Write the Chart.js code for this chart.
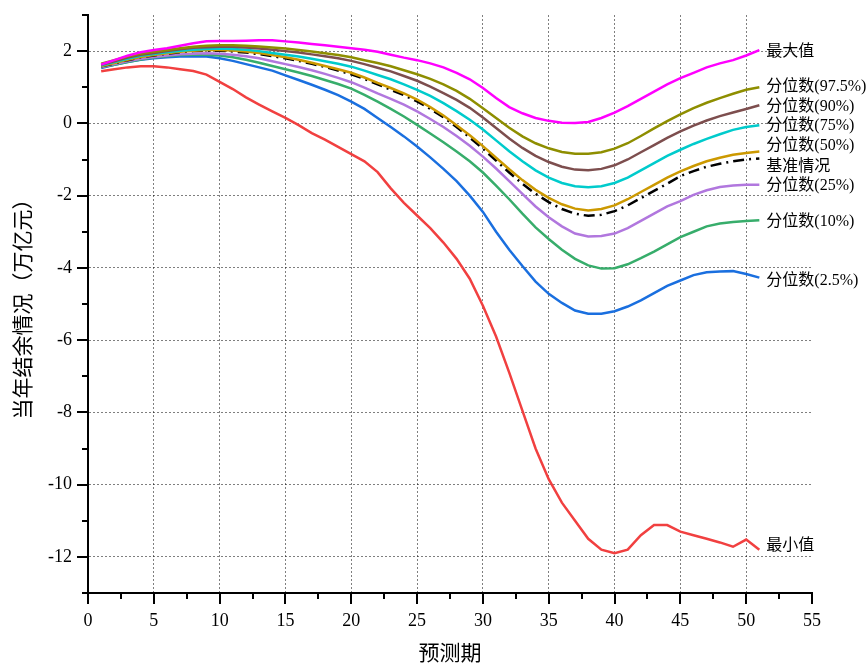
<!DOCTYPE html>
<html>
<head>
<meta charset="utf-8">
<script src="https://cdn.jsdelivr.net/npm/chart.js@4.4.1/dist/chart.umd.min.js"></script>
<style>
  html, body { margin: 0; padding: 0; background: #fff; }
  canvas { display: block; }
</style>
</head>
<body>
<canvas id="c" width="867" height="665"></canvas>
<script>
// ---- data ----
const periods = [1,2,3,4,5,6,7,8,9,10,11,12,13,14,15,16,17,18,19,20,21,22,23,24,25,26,27,28,29,30,31,32,33,34,35,36,37,38,39,40,41,42,43,44,45,46,47,48,49,50,51];

const maxValue = [1.63,1.75,1.87,1.97,2.03,2.08,2.15,2.22,2.27,2.28,2.28,2.29,2.30,2.30,2.27,2.24,2.20,2.16,2.12,2.08,2.04,1.98,1.90,1.82,1.75,1.66,1.55,1.40,1.22,0.98,0.70,0.45,0.28,0.15,0.07,0.02,0.01,0.04,0.15,0.30,0.48,0.68,0.88,1.08,1.25,1.40,1.55,1.66,1.75,1.88,2.03];
const q975 = [1.65,1.75,1.85,1.93,1.98,2.03,2.08,2.12,2.15,2.16,2.16,2.15,2.13,2.10,2.07,2.03,1.99,1.94,1.89,1.83,1.75,1.67,1.58,1.47,1.36,1.23,1.08,0.90,0.68,0.42,0.15,-0.12,-0.36,-0.55,-0.69,-0.79,-0.84,-0.84,-0.80,-0.70,-0.55,-0.35,-0.14,0.06,0.25,0.42,0.57,0.70,0.82,0.93,1.00];
const q90 = [1.62,1.72,1.82,1.90,1.95,2.00,2.05,2.09,2.11,2.12,2.12,2.10,2.07,2.04,2.00,1.96,1.91,1.86,1.80,1.73,1.64,1.54,1.44,1.31,1.18,1.02,0.84,0.65,0.43,0.16,-0.13,-0.42,-0.68,-0.90,-1.07,-1.20,-1.28,-1.30,-1.26,-1.16,-1.00,-0.80,-0.60,-0.40,-0.22,-0.06,0.08,0.20,0.30,0.40,0.50];
const q75 = [1.60,1.70,1.79,1.87,1.92,1.97,2.01,2.04,2.06,2.07,2.06,2.04,2.00,1.95,1.90,1.85,1.79,1.72,1.65,1.57,1.46,1.34,1.22,1.08,0.93,0.76,0.56,0.34,0.10,-0.17,-0.47,-0.77,-1.05,-1.30,-1.50,-1.65,-1.74,-1.77,-1.74,-1.65,-1.50,-1.30,-1.10,-0.90,-0.73,-0.57,-0.43,-0.30,-0.18,-0.10,-0.05];
const q50 = [1.58,1.67,1.76,1.84,1.89,1.94,1.98,2.01,2.03,2.03,2.02,1.99,1.95,1.89,1.83,1.76,1.68,1.59,1.50,1.40,1.27,1.12,0.98,0.83,0.66,0.45,0.22,-0.05,-0.33,-0.63,-0.95,-1.27,-1.57,-1.84,-2.06,-2.24,-2.36,-2.41,-2.37,-2.27,-2.10,-1.90,-1.70,-1.50,-1.33,-1.18,-1.05,-0.95,-0.87,-0.82,-0.78];
const baseline = [1.58,1.66,1.75,1.83,1.88,1.93,1.97,2.00,2.01,2.01,1.99,1.96,1.92,1.86,1.80,1.73,1.65,1.56,1.46,1.36,1.23,1.08,0.93,0.78,0.61,0.40,0.17,-0.10,-0.39,-0.70,-1.03,-1.36,-1.67,-1.95,-2.18,-2.37,-2.50,-2.56,-2.53,-2.43,-2.27,-2.07,-1.87,-1.67,-1.46,-1.32,-1.20,-1.12,-1.05,-1.00,-0.97];
const q25 = [1.56,1.64,1.72,1.79,1.84,1.88,1.91,1.93,1.94,1.93,1.90,1.86,1.80,1.72,1.64,1.56,1.47,1.37,1.26,1.14,0.99,0.83,0.68,0.52,0.33,0.12,-0.10,-0.35,-0.62,-0.92,-1.25,-1.60,-1.95,-2.30,-2.60,-2.85,-3.05,-3.13,-3.12,-3.05,-2.90,-2.70,-2.50,-2.30,-2.15,-1.98,-1.85,-1.76,-1.72,-1.70,-1.70];
const q10 = [1.55,1.62,1.70,1.77,1.82,1.86,1.89,1.90,1.90,1.88,1.83,1.76,1.68,1.59,1.50,1.41,1.31,1.20,1.09,0.96,0.79,0.60,0.40,0.19,-0.04,-0.28,-0.52,-0.78,-1.05,-1.36,-1.72,-2.10,-2.50,-2.88,-3.20,-3.50,-3.75,-3.93,-4.02,-4.01,-3.90,-3.73,-3.55,-3.35,-3.15,-3.00,-2.85,-2.77,-2.73,-2.70,-2.68];
const q025 = [1.53,1.62,1.70,1.76,1.80,1.83,1.85,1.86,1.85,1.80,1.73,1.64,1.55,1.46,1.33,1.20,1.07,0.93,0.78,0.60,0.40,0.15,-0.10,-0.36,-0.64,-0.94,-1.26,-1.60,-2.00,-2.45,-3.00,-3.50,-3.95,-4.38,-4.72,-4.97,-5.18,-5.27,-5.27,-5.20,-5.07,-4.90,-4.70,-4.50,-4.35,-4.20,-4.12,-4.10,-4.09,-4.17,-4.27];
const minValue = [1.44,1.50,1.55,1.58,1.58,1.55,1.50,1.45,1.35,1.15,0.95,0.72,0.52,0.33,0.15,-0.05,-0.27,-0.45,-0.65,-0.85,-1.05,-1.35,-1.80,-2.20,-2.55,-2.90,-3.30,-3.75,-4.30,-5.05,-5.90,-6.90,-7.95,-9.00,-9.85,-10.50,-11.00,-11.50,-11.80,-11.90,-11.80,-11.40,-11.12,-11.12,-11.30,-11.40,-11.50,-11.60,-11.72,-11.52,-11.80];

const seriesNames = ['最大值','分位数(97.5%)','分位数(90%)','分位数(75%)','分位数(50%)','基准情况','分位数(25%)','分位数(10%)','分位数(2.5%)','最小值'];
const seriesValues = [maxValue, q975, q90, q75, q50, baseline, q25, q10, q025, minValue];
// vertical position (in data units) of each end label
const labelLevels = [1.98, 1.0, 0.45, -0.08, -0.63, -1.19, -1.73, -2.72, -4.36, -11.68];

const xTicks = [0,5,10,15,20,25,30,35,40,45,50,55];
const yTicks = [-12,-10,-8,-6,-4,-2,0,2];
const xRange = [0, 55];
const yRange = [-13, 3];
const xMinorStep = 2.5;
const yMinorStep = 1;

// ---- styles ----
const colors = ['#FF00FF','#8E8E00','#7D4E4E','#00CBCC','#CC9900','#000000','#B177DE','#37AD6B','#1A6FDF','#F14040'];
const serif = '"Liberation Serif", "Times New Roman", "Noto Sans CJK SC", serif';

const datasets = seriesValues.map((vals, i) => ({
  label: seriesNames[i],
  data: periods.map((p, k) => ({x: p, y: vals[k]})),
  borderColor: colors[i],
  borderWidth: 2.5,
  borderDash: i === 5 ? [11, 5, 2, 5] : [],
  pointRadius: 0,
  tension: 0,
  fill: false
}));

const tickMarks = {
  id: 'tickMarks',
  afterDraw(chart) {
    const {ctx, scales: {x, y}} = chart;
    ctx.save();
    ctx.strokeStyle = '#000';
    ctx.lineWidth = 2;
    const n = Math.round((xRange[1] - xRange[0]) / xMinorStep);
    for (let k = 0; k <= n; k++) {
      const v = xRange[0] + k * xMinorStep;
      const major = xTicks.includes(v);
      const px = Math.round(x.getPixelForValue(v));
      ctx.beginPath();
      ctx.moveTo(px, y.bottom);
      ctx.lineTo(px, y.bottom + (major ? 11 : 6));
      ctx.stroke();
    }
    const m = Math.round((yRange[1] - yRange[0]) / yMinorStep);
    for (let k = 0; k <= m; k++) {
      const v = yRange[0] + k * yMinorStep;
      const major = yTicks.includes(v);
      const py = Math.round(y.getPixelForValue(v));
      ctx.beginPath();
      ctx.moveTo(x.left, py);
      ctx.lineTo(x.left - (major ? 11 : 6), py);
      ctx.stroke();
    }
    ctx.restore();
  }
};

const endLabels = {
  id: 'endLabels',
  afterDatasetsDraw(chart) {
    const {ctx, scales: {x, y}} = chart;
    ctx.save();
    ctx.font = '16px ' + serif;
    ctx.fillStyle = '#000';
    ctx.textBaseline = 'middle';
    ctx.textAlign = 'left';
    const lastX = periods[periods.length - 1];
    seriesNames.forEach((name, i) => {
      const px = x.getPixelForValue(lastX) + 7;
      const py = y.getPixelForValue(labelLevels[i]);
      ctx.fillText(name, px, py);
    });
    ctx.restore();
  }
};

new Chart(document.getElementById('c'), {
  type: 'line',
  data: { datasets },
  options: {
    responsive: false,
    animation: false,
    events: [],
    layout: { padding: { top: 15, right: 55, left: 0, bottom: 0 } },
    plugins: { legend: { display: false }, tooltip: { enabled: false } },
    scales: {
      x: {
        type: 'linear',
        min: xRange[0], max: xRange[1],
        afterBuildTicks: s => { s.ticks = xTicks.map(v => ({value: v})); },
        afterFit: s => { s.height = 72; s.paddingLeft = 0; s.paddingRight = 0; },
        grid: {
          drawTicks: false,
          color: c => (c.tick && (c.tick.value === xRange[0] || c.tick.value === xRange[1])) ? 'rgba(0,0,0,0)' : 'rgba(0,0,0,0.5)',
          lineWidth: 1
        },
        border: { display: true, color: '#000', width: 2, dash: [2, 2] },
        ticks: { color: '#000', font: { family: serif, size: 18 }, padding: 17, maxRotation: 0, autoSkip: false, callback: v => String(v) },
        title: { display: true, text: '预测期', color: '#000', font: { family: serif, size: 21, lineHeight: 1 }, padding: { top: 0, bottom: 0 } }
      },
      y: {
        type: 'linear',
        min: yRange[0], max: yRange[1],
        afterBuildTicks: s => { s.ticks = yTicks.map(v => ({value: v})); },
        afterFit: s => { s.width = 88; s.paddingTop = 0; s.paddingBottom = 0; },
        grid: { drawTicks: false, color: 'rgba(0,0,0,0.5)', lineWidth: 1 },
        border: { display: true, color: '#000', width: 2, dash: [2, 2] },
        ticks: { color: '#000', font: { family: serif, size: 18 }, padding: 16, autoSkip: false, callback: v => String(v) },
        title: { display: true, text: '当年结余情况（万亿元）', color: '#000', font: { family: serif, size: 21, lineHeight: 1 }, padding: { top: 14, bottom: 0 } }
      }
    }
  },
  plugins: [tickMarks, endLabels]
});
</script>
</body>
</html>
